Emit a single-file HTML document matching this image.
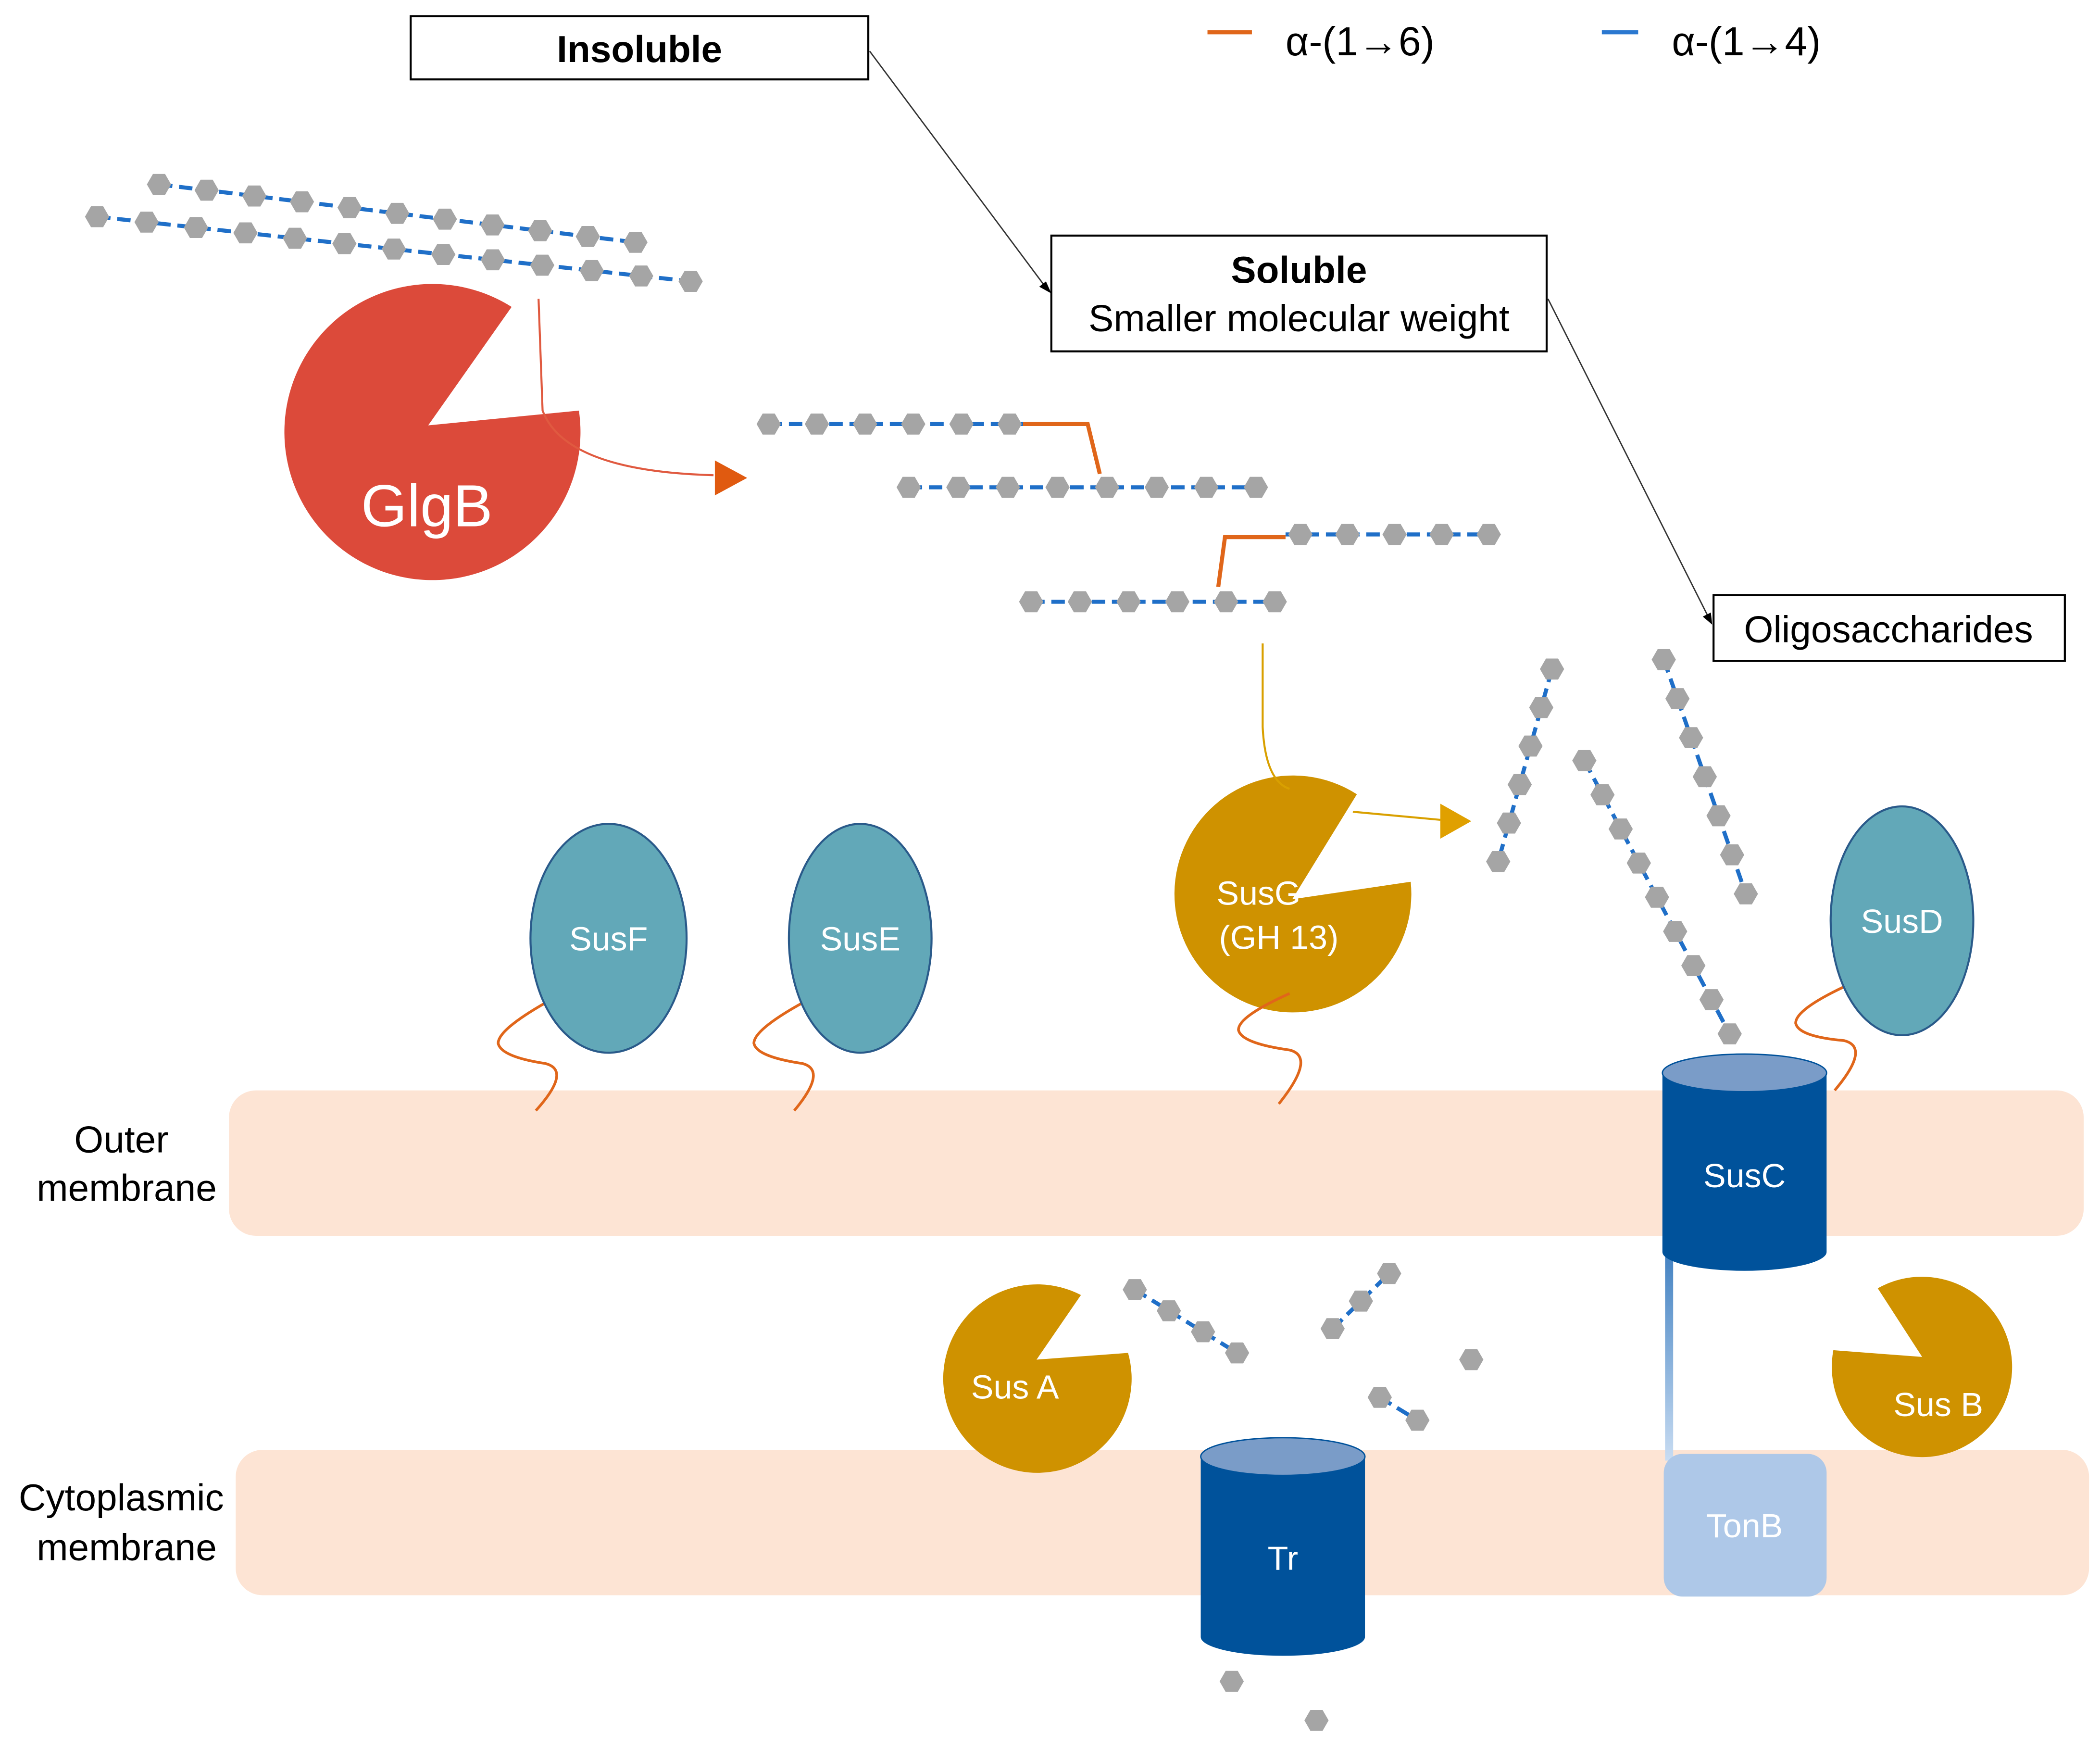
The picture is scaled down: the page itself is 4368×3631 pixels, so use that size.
<!DOCTYPE html>
<html><head><meta charset="utf-8"><style>html,body{margin:0;padding:0;background:#fff}svg{display:block}</style></head>
<body>
<svg width="4368" height="3631" viewBox="0 0 1560 1297" xmlns="http://www.w3.org/2000/svg" xmlns:xlink="http://www.w3.org/1999/xlink" font-family="Liberation Sans, sans-serif">
<defs>
<polygon id="hx" points="9,0 4.5,7.8 -4.5,7.8 -9,0 -4.5,-7.8 4.5,-7.8" fill="#a5a5a5"/>
<linearGradient id="tg" x1="0" y1="0" x2="0" y2="1"><stop offset="0" stop-color="#3f7fc0"/><stop offset="1" stop-color="#c8dcf2"/></linearGradient>
</defs>
<rect width="1560" height="1297" fill="#fff"/>
<rect x="170" y="810" width="1378" height="108" rx="20" fill="#fde4d4"/>
<rect x="175" y="1077" width="1377" height="108" rx="20" fill="#fde4d4"/>
<g font-size="28" fill="#000" text-anchor="middle">
<text x="90" y="856">Outer</text><text x="94" y="892">membrane</text>
<text x="90" y="1122">Cytoplasmic</text><text x="94" y="1159">membrane</text>
</g>
<line x1="897" y1="24" x2="930" y2="24" stroke="#e0661a" stroke-width="3"/>
<text x="955" y="41" font-size="30">α-(1→6)</text>
<line x1="1190" y1="24" x2="1217" y2="24" stroke="#2b78d0" stroke-width="3"/>
<text x="1242" y="41" font-size="30">α-(1→4)</text>
<rect x="305" y="12" width="340" height="47" fill="#fff" stroke="#000" stroke-width="1.5"/>
<text x="475" y="46" font-size="28" font-weight="bold" text-anchor="middle">Insoluble</text>
<rect x="781" y="175" width="368" height="86" fill="#fff" stroke="#000" stroke-width="1.5"/>
<text x="965" y="210" font-size="28" font-weight="bold" text-anchor="middle">Soluble</text>
<text x="965" y="246" font-size="28" text-anchor="middle">Smaller molecular weight</text>
<rect x="1273" y="442" width="261" height="49" fill="#fff" stroke="#000" stroke-width="1.5"/>
<text x="1403" y="477" font-size="28" text-anchor="middle">Oligosaccharides</text>
<line x1="646" y1="38" x2="778" y2="215" stroke="#333" stroke-width="1"/>
<polygon points="781,218 772,213 777,209" fill="#000"/>
<line x1="1150" y1="222" x2="1270" y2="460" stroke="#333" stroke-width="1"/>
<polygon points="1272,464 1265,458 1271,455" fill="#000"/>
<g stroke="#1f6fc8" stroke-width="3" stroke-dasharray="10,5">
<line x1="118" y1="137" x2="472" y2="180"/>
<line x1="72" y1="161" x2="513" y2="209"/>
<line x1="571" y1="315" x2="760" y2="315"/>
<line x1="675" y1="362" x2="933" y2="362"/>
<line x1="955" y1="397" x2="1106" y2="397"/>
<line x1="766" y1="447" x2="947" y2="447"/>
<line x1="1153" y1="497" x2="1113" y2="640"/>
<line x1="1177" y1="565" x2="1285" y2="768"/>
<line x1="1236" y1="490" x2="1297" y2="664"/>
<line x1="843" y1="958" x2="919" y2="1005"/>
<line x1="990" y1="987" x2="1032" y2="946"/>
<line x1="1025" y1="1038" x2="1053" y2="1055"/>
</g>
<g fill="none" stroke="#e0661a" stroke-width="3">
<polyline points="760,315 808,315 817,352"/>
<polyline points="905,436 910,399 955,399"/>
</g>
<g>
<use xlink:href="#hx" href="#hx" x="118" y="137"/><use xlink:href="#hx" href="#hx" x="153.4" y="141.3"/><use xlink:href="#hx" href="#hx" x="188.8" y="145.6"/><use xlink:href="#hx" href="#hx" x="224.2" y="149.9"/><use xlink:href="#hx" href="#hx" x="259.6" y="154.2"/><use xlink:href="#hx" href="#hx" x="295" y="158.5"/><use xlink:href="#hx" href="#hx" x="330.4" y="162.8"/><use xlink:href="#hx" href="#hx" x="365.8" y="167.1"/><use xlink:href="#hx" href="#hx" x="401.2" y="171.4"/><use xlink:href="#hx" href="#hx" x="436.6" y="175.7"/><use xlink:href="#hx" href="#hx" x="472" y="180"/>
<use xlink:href="#hx" href="#hx" x="72" y="161"/><use xlink:href="#hx" href="#hx" x="108.75" y="165"/><use xlink:href="#hx" href="#hx" x="145.5" y="169"/><use xlink:href="#hx" href="#hx" x="182.25" y="173"/><use xlink:href="#hx" href="#hx" x="219" y="177"/><use xlink:href="#hx" href="#hx" x="255.75" y="181"/><use xlink:href="#hx" href="#hx" x="292.5" y="185"/><use xlink:href="#hx" href="#hx" x="329.25" y="189"/><use xlink:href="#hx" href="#hx" x="366" y="193"/><use xlink:href="#hx" href="#hx" x="402.75" y="197"/><use xlink:href="#hx" href="#hx" x="439.5" y="201"/><use xlink:href="#hx" href="#hx" x="476.25" y="205"/><use xlink:href="#hx" href="#hx" x="513" y="209"/>
<use xlink:href="#hx" href="#hx" x="571" y="315"/><use xlink:href="#hx" href="#hx" x="606.8" y="315"/><use xlink:href="#hx" href="#hx" x="642.6" y="315"/><use xlink:href="#hx" href="#hx" x="678.4" y="315"/><use xlink:href="#hx" href="#hx" x="714.2" y="315"/><use xlink:href="#hx" href="#hx" x="750" y="315"/>
<use xlink:href="#hx" href="#hx" x="675" y="362"/><use xlink:href="#hx" href="#hx" x="711.9" y="362"/><use xlink:href="#hx" href="#hx" x="748.7" y="362"/><use xlink:href="#hx" href="#hx" x="785.6" y="362"/><use xlink:href="#hx" href="#hx" x="822.4" y="362"/><use xlink:href="#hx" href="#hx" x="859.3" y="362"/><use xlink:href="#hx" href="#hx" x="896.1" y="362"/><use xlink:href="#hx" href="#hx" x="933" y="362"/>
<use xlink:href="#hx" href="#hx" x="966" y="397"/><use xlink:href="#hx" href="#hx" x="1001" y="397"/><use xlink:href="#hx" href="#hx" x="1036" y="397"/><use xlink:href="#hx" href="#hx" x="1071" y="397"/><use xlink:href="#hx" href="#hx" x="1106" y="397"/>
<use xlink:href="#hx" href="#hx" x="766" y="447"/><use xlink:href="#hx" href="#hx" x="802.2" y="447"/><use xlink:href="#hx" href="#hx" x="838.4" y="447"/><use xlink:href="#hx" href="#hx" x="874.6" y="447"/><use xlink:href="#hx" href="#hx" x="910.8" y="447"/><use xlink:href="#hx" href="#hx" x="947" y="447"/>
<use xlink:href="#hx" href="#hx" x="1153" y="497"/><use xlink:href="#hx" href="#hx" x="1145" y="525.6"/><use xlink:href="#hx" href="#hx" x="1137" y="554.2"/><use xlink:href="#hx" href="#hx" x="1129" y="582.8"/><use xlink:href="#hx" href="#hx" x="1121" y="611.4"/><use xlink:href="#hx" href="#hx" x="1113" y="640"/>
<use xlink:href="#hx" href="#hx" x="1177" y="565"/><use xlink:href="#hx" href="#hx" x="1190.5" y="590.4"/><use xlink:href="#hx" href="#hx" x="1204" y="615.8"/><use xlink:href="#hx" href="#hx" x="1217.5" y="641.1"/><use xlink:href="#hx" href="#hx" x="1231" y="666.5"/><use xlink:href="#hx" href="#hx" x="1244.5" y="691.9"/><use xlink:href="#hx" href="#hx" x="1258" y="717.3"/><use xlink:href="#hx" href="#hx" x="1271.5" y="742.6"/><use xlink:href="#hx" href="#hx" x="1285" y="768"/>
<use xlink:href="#hx" href="#hx" x="1236" y="490"/><use xlink:href="#hx" href="#hx" x="1246.2" y="519"/><use xlink:href="#hx" href="#hx" x="1256.3" y="548"/><use xlink:href="#hx" href="#hx" x="1266.5" y="577"/><use xlink:href="#hx" href="#hx" x="1276.7" y="606"/><use xlink:href="#hx" href="#hx" x="1286.8" y="635"/><use xlink:href="#hx" href="#hx" x="1297" y="664"/>
<use xlink:href="#hx" href="#hx" x="843" y="958"/><use xlink:href="#hx" href="#hx" x="868.3" y="973.7"/><use xlink:href="#hx" href="#hx" x="893.7" y="989.3"/><use xlink:href="#hx" href="#hx" x="919" y="1005"/>
<use xlink:href="#hx" href="#hx" x="990" y="987"/><use xlink:href="#hx" href="#hx" x="1011" y="966.5"/><use xlink:href="#hx" href="#hx" x="1032" y="946"/>
<use xlink:href="#hx" href="#hx" x="1025" y="1038"/><use xlink:href="#hx" href="#hx" x="1053" y="1055"/>
<use xlink:href="#hx" href="#hx" x="1093" y="1010"/><use xlink:href="#hx" href="#hx" x="915" y="1249"/><use xlink:href="#hx" href="#hx" x="978" y="1278"/>
</g>
<path d="M318,316 L380,228 A110,110 0 1,0 430,305 Z" fill="#dc4a3a"/>
<text x="317" y="391" font-size="44" fill="#fff" text-anchor="middle">GlgB</text>
<path d="M400,222 L403,305 Q420,350 530,353" fill="none" stroke="#e05a40" stroke-width="1.5"/>
<polygon points="531,342 555,355 531,368" fill="#e05a10"/>
<path d="M960,668 L1008,590 A88,88 0 1,0 1048,655 Z" fill="#cf9200"/>
<text x="935" y="672" font-size="25" fill="#fff" text-anchor="middle">SusG</text>
<text x="950" y="705" font-size="25" fill="#fff" text-anchor="middle">(GH 13)</text>
<path d="M938,478 L938,540 Q940,580 958,586" fill="none" stroke="#d9a000" stroke-width="1.5"/>
<path d="M1005,603 L1070,609" stroke="#d9a000" stroke-width="1.5"/>
<polygon points="1070,597 1093,610 1070,623" fill="#e0a000"/>
<g fill="none" stroke="#e0661a" stroke-width="2">
<path d="M405,745 Q370,765 370,775 Q372,785 405,790 Q425,795 398,825"/>
<path d="M596,745 Q560,765 560,775 Q562,785 596,790 Q615,795 590,825"/>
<path d="M958,738 Q920,755 920,765 Q922,775 958,780 Q978,785 950,820"/>
<path d="M1370,733 Q1334,750 1334,760 Q1336,770 1370,773 Q1390,778 1363,810"/>
</g>
<g fill="#62a8b8" stroke="#2a5a8a" stroke-width="1.5">
<ellipse cx="452" cy="697" rx="58" ry="85"/>
<ellipse cx="639" cy="697" rx="53" ry="85"/>
<ellipse cx="1413" cy="684" rx="53" ry="85"/>
</g>
<g font-size="25" fill="#fff" text-anchor="middle">
<text x="452" y="706">SusF</text><text x="639" y="706">SusE</text><text x="1413" y="693">SusD</text>
</g>
<rect x="1237" y="925" width="6" height="160" fill="url(#tg)"/>
<rect x="1236" y="1080" width="121" height="106" rx="14" fill="#aec8e8"/>
<text x="1296" y="1142" font-size="25" fill="#fff" text-anchor="middle">TonB</text>
<path d="M1235,797 L1235,930 A61,14 0 0,0 1357,930 L1357,797 Z" fill="#00529b"/>
<ellipse cx="1296" cy="797" rx="61" ry="14" fill="#7a9cc8" stroke="#00529b" stroke-width="1"/>
<text x="1296" y="882" font-size="25" fill="#fff" text-anchor="middle">SusC</text>
<path d="M892,1082 L892,1216 A61,14 0 0,0 1014,1216 L1014,1082 Z" fill="#00529b"/>
<ellipse cx="953" cy="1082" rx="61" ry="14" fill="#7a9cc8" stroke="#00529b" stroke-width="1"/>
<text x="953" y="1166" font-size="25" fill="#fff" text-anchor="middle">Tr</text>
<path d="M770,1010 L803,962 A70,70 0 1,0 838,1005 Z" fill="#cf9200"/>
<text x="754" y="1039" font-size="25" fill="#fff" text-anchor="middle">Sus A</text>
<path d="M1428,1008 L1395,957 A67,67 0 1,1 1362,1003 Z" fill="#cf9200"/>
<text x="1440" y="1052" font-size="25" fill="#fff" text-anchor="middle">Sus B</text>
</svg>
</body></html>
